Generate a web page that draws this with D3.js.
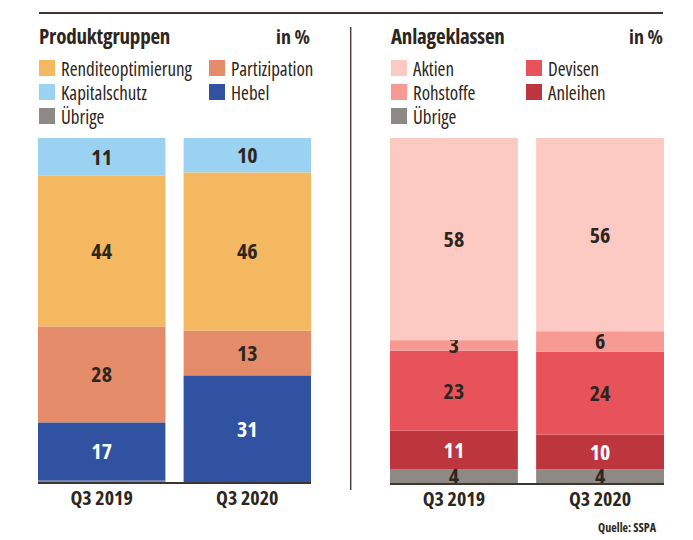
<!DOCTYPE html>
<html>
<head>
<meta charset="utf-8">
<script src="https://cdn.jsdelivr.net/npm/d3@7"></script>
<style>
  body { margin: 0; background: #fff; }
  svg { display: block; }
  text { font-family: "Open Sans", "Roboto", sans-serif; font-stretch: condensed; fill: #2d2620; }
  .title { font-size: 21px; font-weight: bold; letter-spacing: -0.2px; }
  .unit { font-size: 20px; font-weight: bold; }
  .leg { font-size: 19px; }
  .val { font-size: 22px; font-weight: bold; }
  .axis { font-size: 20px; font-weight: bold; }
  .src { font-size: 12px; font-weight: bold; }
</style>
</head>
<body>
<div id="chart"></div>
<script>
// Zeitpunkte
let periods = ["Q3 2019", "Q3 2020"];

// Produktgruppen (in %)
let prod_keys = ["Übrige", "Hebel", "Partizipation", "Renditeoptimierung", "Kapitalschutz"];
let prod_values = {
    "Übrige":             [0.4, 0],
    "Hebel":              [17, 31],
    "Partizipation":      [28, 13],
    "Renditeoptimierung": [44, 46],
    "Kapitalschutz":      [11, 10]
};
let prod_legend = ["Renditeoptimierung", "Partizipation", "Kapitalschutz", "Hebel", "Übrige"];

// Anlageklassen (in %)
let asset_keys = ["Übrige", "Anleihen", "Devisen", "Rohstoffe", "Aktien"];
let asset_values = {
    "Übrige":    [4, 4],
    "Anleihen":  [11, 10],
    "Devisen":   [23, 24],
    "Rohstoffe": [3, 6],
    "Aktien":    [58, 56]
};
let asset_legend = ["Aktien", "Devisen", "Rohstoffe", "Anleihen", "Übrige"];

let colors = {
    "Renditeoptimierung": "#f3b860",
    "Partizipation": "#e48c69",
    "Kapitalschutz": "#9bd1f1",
    "Hebel": "#3151a1",
    "Übrige": "#8d8985",
    "Aktien": "#fdcac3",
    "Rohstoffe": "#f89a94",
    "Devisen": "#e8535b",
    "Anleihen": "#be363d"
};
let white_labels = ["Hebel", "Anleihen"];

let w = 693, h = 540;
let svg = d3.select("#chart").append("svg")
    .attr("width", w)
    .attr("height", h);

// Linie oben
svg.append("line")
    .attr("x1", 39).attr("x2", 663)
    .attr("y1", 13).attr("y2", 13)
    .style("stroke", "#3d3530")
    .style("stroke-width", 2);

// Trennlinie
svg.append("line")
    .attr("x1", 350.7).attr("x2", 350.7)
    .attr("y1", 27).attr("y2", 490)
    .style("stroke", "#4d4540")
    .style("stroke-width", 1.5);

function draw_panel(opt) {
    let g = svg.append("g");

    g.append("text").attr("class", "title")
        .attr("x", opt.x0 + 1).attr("y", 44)
        .text(opt.title);
    g.append("text").attr("class", "unit")
        .attr("x", opt.unitX).attr("y", 44)
        .attr("text-anchor", "end")
        .text("in %");

    // Legende
    let leg = g.selectAll(".legitem")
        .data(opt.legend)
        .enter().append("g")
        .attr("transform", function (d, i) {
            let col = i % 2, row = Math.floor(i / 2);
            return "translate(" + (opt.x0 + 1 + col * opt.colW) + "," + (60 + row * 24) + ")";
        });
    leg.append("rect")
        .attr("width", 16).attr("height", 16)
        .style("fill", function (d) { return colors[d]; });
    leg.append("text").attr("class", "leg")
        .attr("x", 22).attr("y", 16)
        .text(function (d) { return d; });

    let table = periods.map(function (p, i) {
        let row = {period: p};
        opt.keys.forEach(function (k) { row[k] = opt.values[k][i]; });
        return row;
    });

    let series = d3.stack()
        .keys(opt.keys)
        .offset(d3.stackOffsetExpand)(table);

    let x = d3.scaleBand()
        .domain(periods)
        .range([opt.x0, opt.x1])
        .paddingInner(0.125);
    let y = d3.scaleLinear()
        .domain([0, 1])
        .range([opt.bottom, 138]);

    let layer = g.selectAll(".layer")
        .data(series)
        .enter().append("g")
        .style("fill", function (d) { return colors[d.key]; });

    layer.selectAll("rect")
        .data(function (d) { return d; })
        .enter().append("rect")
        .attr("x", function (d) { return x(d.data.period); })
        .attr("width", x.bandwidth())
        .attr("y", function (d) { return y(d[1]); })
        .attr("height", function (d) { return y(d[0]) - y(d[1]); });

    layer.selectAll("text")
        .data(function (d) {
            return d.map(function (e) { e.key = d.key; return e; })
                .filter(function (e) { return e.data[d.key] >= 1; });
        })
        .enter().append("text")
        .attr("class", "val")
        .attr("x", function (d) { return x(d.data.period) + x.bandwidth() / 2; })
        .attr("y", function (d) { return (y(d[0]) + y(d[1])) / 2; })
        .attr("dy", "0.36em")
        .attr("text-anchor", "middle")
        .style("fill", function (d) { return white_labels.indexOf(d.key) >= 0 ? "#fff" : "#2d2620"; })
        .text(function (d) { return d.data[d.key]; });

    g.append("line")
        .attr("x1", opt.x0).attr("x2", opt.x1)
        .attr("y1", opt.bottom + 1).attr("y2", opt.bottom + 1)
        .style("stroke", "#3d3530")
        .style("stroke-width", 2);

    let axis = d3.axisBottom(x).tickSize(0).tickPadding(0);
    let ax = g.append("g")
        .attr("transform", "translate(0," + (opt.bottom + 1) + ")")
        .call(axis);
    ax.select(".domain").remove();
    ax.selectAll("text")
        .attr("class", "axis")
        .attr("dy", null)
        .attr("y", 22);
}

draw_panel({
    title: "Produktgruppen", unitX: 310,
    x0: 38, x1: 311, bottom: 482, colW: 170,
    keys: prod_keys, values: prod_values, legend: prod_legend
});

draw_panel({
    title: "Anlageklassen", unitX: 663,
    x0: 390, x1: 664, bottom: 483, colW: 135,
    keys: asset_keys, values: asset_values, legend: asset_legend
});

svg.append("text").attr("class", "src")
    .attr("x", 656).attr("y", 532)
    .attr("text-anchor", "end")
    .text("Quelle: SSPA");
</script>
</body>
</html>
